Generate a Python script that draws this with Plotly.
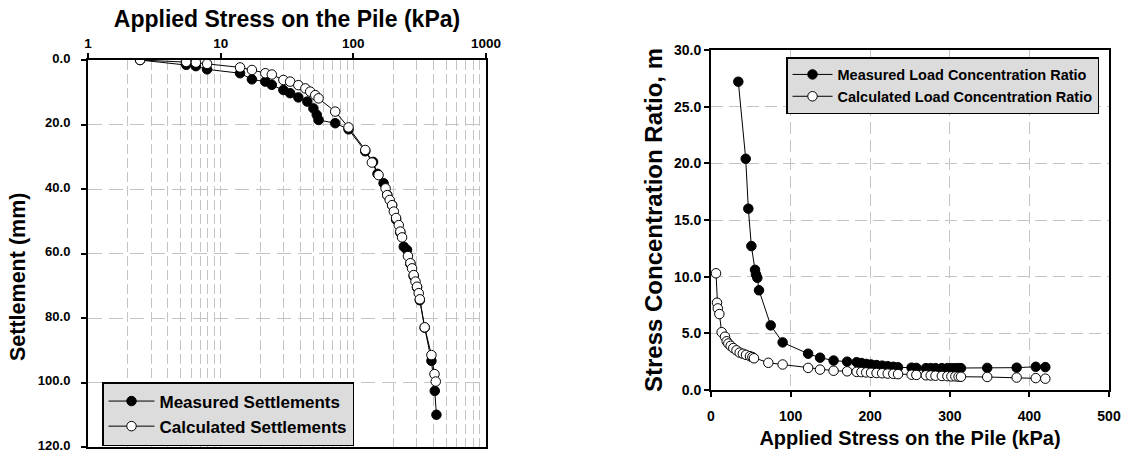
import plotly.graph_objects as go

# ---------------- Left chart: settlement vs applied stress (log x) ----------------
meas_stress = [2.47, 5.5, 6.5, 7.9, 14.0, 17.2, 21.7, 24.3, 29.7, 33.4, 38.5, 45.0, 50.0, 53.0, 54.7,
               73.0, 92.0, 123.0, 141.0, 152.0, 169.0, 180.0, 196.0, 210.0, 226.0, 240.0, 254.0,
               269.0, 285.0, 302.0, 317.0, 345.0, 388.0, 411.0, 423.0]
meas_settle = [0.0, 1.5, 1.9, 2.9, 4.1, 6.0, 6.7, 7.7, 9.3, 10.3, 11.6, 12.9, 15.0, 17.0, 18.6,
               19.6, 21.5, 28.3, 31.6, 35.3, 38.2, 41.8, 45.0, 49.5, 53.5, 57.9, 58.9,
               63.2, 67.0, 70.5, 74.5, 83.0, 93.3, 102.6, 110.0]

calc_stress = [2.47, 5.5, 6.5, 7.9, 14.0, 17.2, 21.7, 24.3, 29.7, 33.4, 38.5, 43.5, 47.3, 51.6, 54.7,
               73.0, 92.0, 123.0, 138.0, 155.0, 175.0, 180.0, 188.0, 196.0, 202.0, 210.0, 220.0,
               226.0, 233.0, 258.0, 269.0, 277.0, 285.0, 294.0, 302.0, 311.0, 317.0, 345.0,
               388.0, 409.0, 418.0]
calc_settle = [0.0, 0.6, 0.8, 1.2, 2.3, 3.1, 4.1, 4.5, 6.2, 6.7, 7.8, 8.8, 9.8, 10.9, 11.9,
               16.0, 20.9, 27.9, 31.8, 35.7, 39.8, 41.9, 43.4, 45.0, 47.0, 49.0, 51.2,
               53.2, 55.0, 60.8, 63.0, 64.6, 66.7, 68.7, 70.3, 72.3, 74.2, 82.9,
               91.5, 97.4, 99.7]

left_xticks = [1, 10, 100, 1000]
left_xticklabels = ["1", "10", "100", "1000"]
left_yticks = [0, 20, 40, 60, 80, 100, 120]

# ---------------- Right chart: stress concentration ratio ----------------
rm_x = [34.3, 43.6, 46.9, 50.7, 55.3, 56.5, 58.2, 60.3, 75.0, 90.0, 122.0, 137.0, 154.0, 171.0,
        183.0, 189.0, 195.0, 201.0, 208.0, 215.0, 222.0, 229.0, 235.0, 252.0, 258.0, 270.0,
        276.0, 282.0, 290.0, 297.0, 302.0, 307.0, 311.0, 314.0, 347.0, 384.0, 408.0, 420.0]
rm_y = [27.2, 20.4, 16.0, 12.7, 10.6, 10.2, 9.9, 8.8, 5.7, 4.2, 3.2, 2.85, 2.6, 2.5,
        2.45, 2.38, 2.3, 2.25, 2.2, 2.15, 2.1, 2.05, 2.0, 1.97, 1.95, 1.93,
        1.93, 1.93, 1.93, 1.93, 1.93, 1.93, 1.93, 1.93, 1.95, 1.97, 2.05, 2.02]

rc_x = [6.3, 7.5, 8.5, 10.5, 13.4, 17.6, 19.7, 21.8, 24.7, 28.0, 32.0, 36.0, 40.0, 44.0, 49.0,
        52.0, 54.0, 72.0, 90.0, 122.0, 137.0, 154.0, 171.0, 183.0, 189.0, 195.0, 201.0, 208.0,
        215.0, 222.0, 229.0, 235.0, 252.0, 258.0, 270.0, 276.0, 282.0, 290.0, 297.0, 302.0,
        307.0, 311.0, 314.0, 347.0, 384.0, 408.0, 420.0]
rc_y = [10.3, 7.7, 7.2, 6.7, 5.1, 4.7, 4.3, 4.1, 3.9, 3.7, 3.5, 3.3, 3.2, 3.1, 2.98,
        2.9, 2.8, 2.4, 2.25, 1.95, 1.8, 1.7, 1.65, 1.6, 1.58, 1.55, 1.52, 1.5,
        1.48, 1.45, 1.43, 1.4, 1.35, 1.33, 1.3, 1.28, 1.26, 1.24, 1.22, 1.2,
        1.2, 1.18, 1.17, 1.15, 1.1, 1.05, 1.0]

FONT = "Liberation Sans, Arial, sans-serif"
GRID = "#c4c4c4"

W, H = 1139, 453
ML, MR, MT, MB = 88, 30, 50, 6
IW, IH = W - ML - MR, H - MT - MB


def dx(px):
    return (px - ML) / IW


def dy(py):
    return (H - MB - py) / IH


fig = go.Figure()

mk_filled = dict(symbol="circle", size=9.5, color="black", line=dict(color="black", width=1))
mk_open = dict(symbol="circle", size=9.5, color="white", line=dict(color="black", width=1))
ln = dict(color="black", width=1)

fig.add_trace(go.Scatter(x=meas_stress, y=meas_settle, mode="lines+markers", name="Measured Settlements",
                         marker=mk_filled, line=ln, xaxis="x", yaxis="y", legend="legend"))
fig.add_trace(go.Scatter(x=calc_stress, y=calc_settle, mode="lines+markers", name="Calculated Settlements",
                         marker=mk_open, line=ln, xaxis="x", yaxis="y", legend="legend"))
fig.add_trace(go.Scatter(x=rm_x, y=rm_y, mode="lines+markers", name="Measured Load Concentration Ratio",
                         marker=mk_filled, line=ln, xaxis="x2", yaxis="y2", legend="legend2"))
fig.add_trace(go.Scatter(x=rc_x, y=rc_y, mode="lines+markers", name="Calculated Load Concentration Ratio",
                         marker=mk_open, line=ln, xaxis="x2", yaxis="y2", legend="legend2"))

axis_common = dict(showline=True, linecolor="black", linewidth=2, mirror=True,
                   ticks="outside", ticklen=5, tickcolor="black", tickwidth=1.5,
                   zeroline=False, gridcolor=GRID, gridwidth=1, automargin=False,
                   ticklabeloverflow="allow")

fig.update_layout(
    width=W, height=H,
    margin=dict(l=ML, r=MR, t=MT, b=MB, autoexpand=False),
    paper_bgcolor="white", plot_bgcolor="white",
    font=dict(family=FONT, color="black"),
    showlegend=True,
    xaxis=dict(
        axis_common, type="log", range=[0, 3], side="top", anchor="y",
        domain=[dx(88), dx(486)],
        tickvals=left_xticks, ticktext=left_xticklabels,
        tickfont=dict(size=13.5, weight="bold"), ticklabelstandoff=0,
        title=dict(text="Applied Stress on the Pile (kPa)", font=dict(size=23, weight="bold"), standoff=2),
        griddash="10px,4px",
        minor=dict(tickvals=[v * d for d in (1, 10, 100) for v in range(2, 10)],
                   showgrid=True, gridcolor=GRID, griddash="10px,4px", ticks=""),
    ),
    yaxis=dict(
        axis_common, range=[120, 0], anchor="x",
        domain=[dy(447), dy(60)],
        tickvals=left_yticks, tickformat=".1f",
        tickfont=dict(size=13, weight="bold"), ticklabelstandoff=8, ticklabelshift=2,
        griddash="14px,7px",
    ),
    xaxis2=dict(
        axis_common, range=[0, 500], anchor="y2", dtick=100,
        domain=[dx(711), dx(1109)],
        tickfont=dict(size=14, weight="bold"), ticklabelstandoff=7,
        title=dict(text="Applied Stress on the Pile (kPa)", font=dict(size=20, weight="bold"), standoff=8),
        griddash="12px,6px",
    ),
    yaxis2=dict(
        axis_common, range=[0, 30], anchor="x2", dtick=5, tickformat=".1f",
        domain=[dy(390), dy(50)],
        tickfont=dict(size=14, weight="bold"),
        title=dict(text="Stress Concentration Ratio, m", font=dict(size=24, weight="bold"), standoff=5),
        griddash="12px,6px",
    ),
    legend=dict(x=dx(102), y=dy(382), xanchor="left", yanchor="top",
                bgcolor="#dcdcdc", bordercolor="black", borderwidth=1.5,
                font=dict(size=17, weight="bold"), tracegroupgap=0, itemwidth=46),
    legend2=dict(x=dx(786), y=dy(57), xanchor="left", yanchor="top",
                 bgcolor="#dcdcdc", bordercolor="black", borderwidth=1.5,
                 font=dict(size=14.5, weight="bold"), tracegroupgap=0, itemwidth=40),
)

# Left y-axis title (sits lower than the plot centre in the original)
fig.add_annotation(text="Settlement (mm)", xref="paper", yref="paper",
                   x=dx(18), y=dy(277), xanchor="center", yanchor="middle",
                   textangle=-90, showarrow=False,
                   font=dict(family=FONT, size=21.5, weight="bold", color="black"))

fig.write_html("out.html", config={"displayModeBar": False},
               post_script="document.body.style.margin='0';document.body.style.padding='0';")
